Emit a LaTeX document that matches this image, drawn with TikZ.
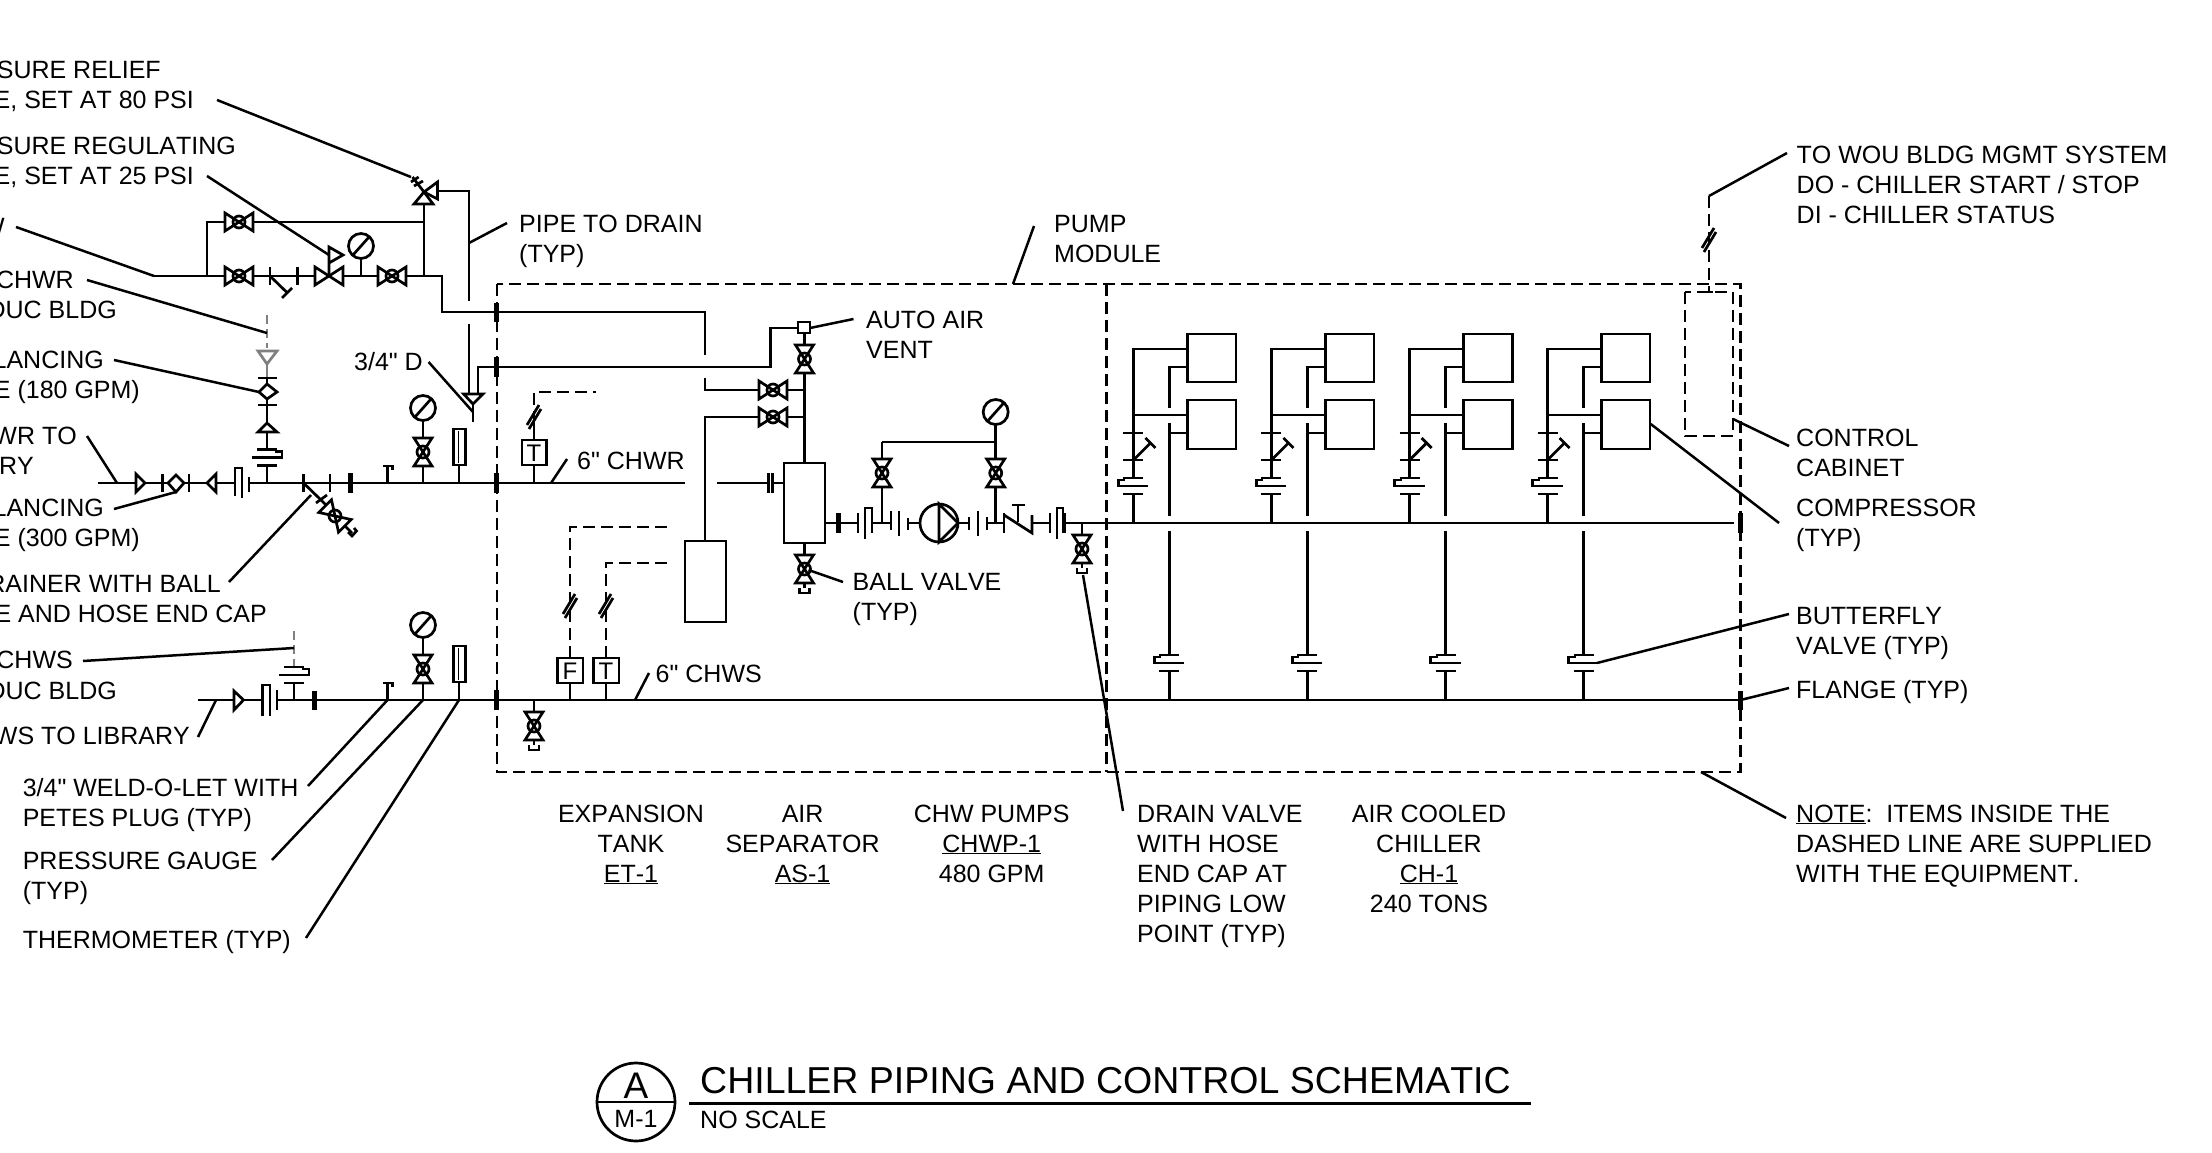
\documentclass[tikz,border=0pt]{standalone}
\usepackage{fontspec}
\defaultfontfeatures[\rmfamily]{}
\setmainfont{Liberation Sans}[Kerning=Off]
\usetikzlibrary{calc}

\tikzset{
  pipe/.style={line width=2.7pt},
  heavy/.style={line width=5pt},
  lead/.style={line width=2.5pt},
  ctrl/.style={line width=2.4pt,dash pattern=on 12pt off 6pt},
  ctrlgray/.style={line width=2.4pt,gray,dash pattern=on 9pt off 5pt},
  lbl/.style={inner sep=0pt,font=\fontsize{25}{30}\selectfont,align=left,anchor=base west},
  lblr/.style={lbl,align=right,anchor=base east},
  lblc/.style={lbl,align=center,anchor=base},
}

% Valve symbols, all by centre
\newcommand{\ballvalve}[3]{%
  \begin{scope}[shift={(#1,#2)},rotate=#3]
    \draw[pipe] (-14,-9) -- (14,9) -- (14,-9) -- (-14,9) -- cycle;
    \draw[pipe] (0,0) circle (6);
  \end{scope}}
\newcommand{\hosecap}[2]{\draw[pipe] ($(#1,#2)+(-5,0)$) -- ++(0,5) -- ++(10,0) -- ++(0,-5);}
\newcommand{\gauge}[2]{%
  \draw[pipe] (#1,#2) circle (12.5);
  \draw[pipe] ($(#1,#2)+(-8,9)$) -- ($(#1,#2)+(8,-9)$);}
\newcommand{\barV}[3]{\draw[pipe] (#1,#2) -- (#1,#3);}
\newcommand{\butterfly}[3]{%
  \draw[pipe] ($(#1,#2)+(-10,-8)$) -- ($(#1,#2)+(10,-8)$);
  \draw[pipe] ($(#1,#2)+(-10,8)$) -- ($(#1,#2)+(10,8)$);
  \draw[pipe] ($(#1,#2)+(-#3*15,0)$) -- ($(#1,#2)+(#3*15,0)$) -- ($(#1,#2)+(#3*15,-6)$) -- ($(#1,#2)+(#3*8,-6)$);}
\newcommand{\slashes}[2]{%
  \draw[pipe] ($(#1,#2)+(-7,8)$) -- ($(#1,#2)+(5,-12)$);
  \draw[pipe] ($(#1,#2)+(-5,12)$) -- ($(#1,#2)+(7,-8)$);}
\newcommand{\plug}[2]{\draw[pipe] (#1,#2) -- (#1,#2-17) ++(-5,0) -- ++(10,0) -- ++(0,4);}

\begin{document}
\begin{tikzpicture}[x=1pt,y=-1pt]
  \useasboundingbox (0,0) rectangle (2212,1153);

  % Dashed skid outlines
  \draw[ctrl] (497,284) rectangle (1740.5,771.7);
  \draw[ctrl] (1106.5,284) -- (1106.5,771.7);
  \draw[ctrl] (1685,292) rectangle (1733,436);
  \draw[ctrl] (1709,196) -- (1709,292);
  \draw[pipe] (1705,292) -- (1713,292);
  \slashes{1709}{240}

  % City water feed at top left
  \draw[pipe] (154,276) -- (225,276);
  \draw[pipe] (253,276) -- (315,276);
  \draw[pipe] (343,276) -- (378,276);
  \draw[pipe] (406,276) -- (442,276) -- (442,312) -- (705,312) -- (705,355);
  \draw[pipe] (207,276) -- (207,222) -- (225,222);
  \draw[pipe] (253,222) -- (424,222);
  \draw[pipe] (424,204) -- (424,276);
  \ballvalve{239}{276}{0}
  \ballvalve{239}{222}{0}
  \ballvalve{392}{276}{0}
  \barV{270}{267}{285}
  \draw[pipe] (270,276) -- (287.5,293);
  \draw[pipe] (282,298) -- (292,288);
  \barV{297.5}{267}{285}
  \draw[pipe] (315,267) -- (343,285) -- (343,267) -- (315,285) -- cycle;
  \draw[pipe] (329,276) -- (329,263) -- (329,247) -- (343,255) -- (329,263);
  \gauge{361}{246}
  \draw[pipe] (361,258) -- (361,276);

  % Relief valve and drain
  \draw[pipe] (424,192) -- (437.5,182) -- (437.5,199) -- cycle;
  \draw[pipe] (424,192) -- (414,204) -- (433,204) -- cycle;
  \draw[pipe] (424,192) -- (412.5,177);
  \draw[pipe] (411,182) -- (418.6,177);
  \draw[pipe] (414,186) -- (423,181);
  \draw[pipe] (437.5,191) -- (469,191) -- (469,301);
  \draw[pipe] (469,324) -- (469,394);
  \draw[pipe] (478,394) -- (478,367) -- (770.6,367) -- (770.6,328) -- (798,328);
  \draw[pipe] (463.6,394) -- (483,394) -- (473,404) -- cycle;
  \draw[pipe] (473,404) -- (473,422);

  % CHWR branch from the north
  \draw[ctrlgray] (267,315) -- (267,348);
  \draw[pipe,gray] (258,351) -- (277,351) -- (267,364) -- cycle;
  \draw[pipe,gray] (267,364) -- (267,378);
  \draw[pipe] (258,378) -- (277,378);
  \draw[pipe] (267,378) -- (267,384);
  \draw[pipe] (267,384) -- (277,392) -- (267,399) -- (259,392) -- cycle;
  \draw[pipe] (267,399) -- (267,423);
  \draw[pipe] (258,405) -- (277,405);
  \draw[pipe] (267,423) -- (277,432) -- (258,432) -- cycle;
  \draw[pipe] (267,432) -- (267,450);
  \butterfly{267}{457.5}{1}
  \draw[pipe] (267,465.5) -- (267,483);

  % 6" CHWR main, left to right
  \draw[pipe] (98,483) -- (136,483);
  \draw[pipe] (136,474) -- (145,483) -- (136,492) -- cycle;
  \draw[pipe] (145,483) -- (168,483);
  \barV{162.5}{474}{492}
  \draw[pipe] (176,475) -- (184,483) -- (176,492) -- (168,483) -- cycle;
  \draw[pipe] (184,483) -- (207,483);
  \barV{189}{474}{492}
  \draw[pipe] (207,483) -- (216,474) -- (216,492) -- cycle;
  \draw[pipe] (216,483) -- (235,483);
  \draw[pipe] (235,496) -- (235,468) -- (242,468) -- (242,498);
  \barV{249}{477}{492}
  \draw[pipe] (249,483) -- (685,483);
  \foreach \x in {303.5,330}
    \barV{\x}{474}{492};
  \draw[heavy] (350.5,473) -- (350.5,493);
  \plug{387.5}{483}
  \draw[heavy] (496.5,473) -- (496.5,493);

  % Strainer with drain
  \draw[pipe] (303.5,483) -- (321,500) -- (326,505);
  \draw[pipe] (316,503) -- (327,495);
  \ballvalve{335}{516}{-45}
  \draw[pipe] (345,526) -- (352,533);
  \draw[pipe] (348,532) -- (352,536) -- (356.5,531) -- (354,528);

  % Gauge and thermometer tappings
  \foreach \y/\g in {483/408,700/625}
  {
    \gauge{423}{\g}
    \draw[pipe] (423,\g+12.5) -- (423,\g+29);
    \ballvalve{423}{\g+44}{90}
    \draw[pipe] (423,\g+58) -- (423,\y);
    \draw[pipe] (453.5,\g+21) rectangle (465.5,\g+57);
    \draw[line width=1.5pt] (458.5,\g+23) -- (458.5,\g+55);
    \draw[pipe] (459,\g+57) -- (459,\y);
  }
  \draw[heavy] (496.5,303) -- (496.5,322);
  \draw[heavy] (496.5,357) -- (496.5,377);

  % CHWS side, bottom left
  \draw[pipe] (198,700) -- (234,700);
  \draw[pipe] (234,691) -- (243.5,700) -- (234,710) -- cycle;
  \draw[pipe] (243.5,700) -- (262.5,700);
  \draw[pipe] (262.5,716) -- (262.5,685) -- (270,685) -- (270,716);
  \barV{277}{690}{710}
  \draw[pipe] (277,700) -- (1740.5,700);
  \draw[ctrlgray] (294,631) -- (294,666);
  \butterfly{294}{675}{1}
  \draw[pipe] (294,683) -- (294,700);
  \draw[heavy] (314.5,691) -- (314.5,710);
  \plug{387.5}{700}
  \draw[heavy] (496.5,690) -- (496.5,710);
  \draw[heavy] (1740.5,691) -- (1740.5,710);

  % Sensors in the module
  \draw[pipe] (522,440) rectangle (546.5,465);
  \node[lbl,anchor=base,font=\fontsize{24}{24}\selectfont] (sensT) at (534,461) {T};
  \draw[pipe] (534,465) -- (534,483);
  \draw[pipe] (534,440) -- (534,423);
  \draw[ctrl] (534,423) -- (534,392) -- (596,392);
  \slashes{534}{417}
  \draw[pipe] (557.5,658) rectangle (583,683);
  \node[lbl,anchor=base,font=\fontsize{24}{24}\selectfont] (sensF) at (570,679) {F};
  \draw[pipe] (593.5,658) rectangle (619,683);
  \node[lbl,anchor=base,font=\fontsize{24}{24}\selectfont] (sensTb) at (606,679) {T};
  \foreach \x in {570,606}
    \draw[pipe] (\x,683) -- (\x,700);
  \draw[ctrl] (570,658) -- (570,527) -- (668.6,527);
  \draw[ctrl] (606,658) -- (606,563) -- (668.6,563);
  \slashes{570}{606}
  \slashes{606}{606}
  \draw[pipe] (534,700) -- (534,712);
  \ballvalve{534}{726}{90}
  \draw[pipe] (534,740) -- (534,745);
  \hosecap{534}{745}

  % Expansion tank and air separator
  \draw[pipe] (685,541) rectangle (726,622);
  \draw[pipe] (784,463) rectangle (825,543);
  \draw[pipe] (705,378) -- (705,390) -- (759,390);
  \draw[pipe] (705,541) -- (705,417) -- (759,417);
  \ballvalve{773}{390}{0}
  \ballvalve{773}{417}{0}
  \draw[pipe] (787,390) -- (804.5,390);
  \draw[pipe] (787,417) -- (804.5,417);
  \draw[pipe] (798,322) rectangle (810,333);
  \draw[pipe] (804.5,333) -- (804.5,345);
  \ballvalve{804.5}{359}{90}
  \draw[pipe] (804.5,373) -- (804.5,463);
  \draw[pipe] (804.5,543) -- (804.5,555);
  \ballvalve{804.5}{569}{90}
  \draw[pipe] (804.5,583) -- (804.5,588);
  \hosecap{804.5}{588}
  \draw[pipe] (717,483) -- (768.5,483);
  \foreach \x in {768.5,772.5}
    \barV{\x}{473}{493};
  \draw[pipe] (772.5,483) -- (784,483);

  % Pump train
  \draw[pipe] (825,523) -- (858,523);
  \draw[heavy] (838.5,513) -- (838.5,533);
  \barV{858}{513}{533}
  \draw[pipe] (865,539) -- (865,508) -- (872,508) -- (872,533);
  \draw[pipe] (872,523) -- (891,523);
  \barV{891}{511}{530}
  \barV{899}{511}{536}
  \barV{908}{518}{530}
  \draw[pipe] (908,523) -- (920,523);
  \draw[pipe] (939,523) circle (19);
  \draw[pipe] (939,504) -- (939,542) -- (958,523) -- cycle;
  \draw[pipe] (958,523) -- (969,523);
  \barV{969}{517}{530}
  \barV{978}{511}{536}
  \barV{987}{517}{530}
  \draw[pipe] (987,523) -- (1004,523);
  \barV{1004}{513}{533}
  \draw[pipe] (1004,515) -- (1032,533) -- (1032,515);
  \draw[pipe] (1012,505) -- (1025,505);
  \draw[pipe] (1018,505) -- (1018,522);
  \draw[pipe] (1032,523) -- (1050,523);
  \barV{1050}{513}{533}
  \draw[pipe] (1057,539) -- (1057,508) -- (1063,508) -- (1063,533);
  \barV{1065}{513}{533}
  \draw[pipe] (1065,523) -- (1734,523);
  \draw[heavy] (1740.5,513) -- (1740.5,533);
  \foreach \x in {882,995.7}
  {
    \draw[pipe] (\x,523) -- (\x,487);
    \ballvalve{\x}{473}{90}
    \draw[pipe] (\x,459) -- (\x,442);
  }
  \draw[pipe] (882,442) -- (995.7,442);
  \draw[pipe] (995.7,442) -- (995.7,424.5);
  \gauge{995.7}{412}
  \draw[pipe] (1082,523) -- (1082,535);
  \ballvalve{1082}{549}{90}
  \draw[pipe] (1082,563) -- (1082,568);
  \hosecap{1082}{568}

  % Chiller circuits
  \foreach \x in {1133.4,1271.4,1409.6,1547.5}
  {
    \draw[pipe] ($(\x,0)+(54,334)$) rectangle ($(\x,0)+(102.6,382)$);
    \draw[pipe] ($(\x,0)+(54,400)$) rectangle ($(\x,0)+(102.6,449)$);
    \draw[pipe] (\x,523) -- (\x,494);
    \draw[pipe] (\x,478) -- (\x,349) -- ($(\x,0)+(54,349)$);
    \draw[pipe] (\x,415) -- ($(\x,0)+(54,415)$);
    \draw[pipe] ($(\x,0)+(-10,433)$) -- ($(\x,0)+(10,433)$);
    \draw[pipe] ($(\x,0)+(-10,460)$) -- ($(\x,0)+(10,460)$);
    \draw[pipe] (\x,460) -- ($(\x,0)+(17,443)$);
    \draw[pipe] ($(\x,0)+(12,438)$) -- ($(\x,0)+(22,448)$);
    \butterfly{\x}{486}{-1}
    \draw[pipe] ($(\x,0)+(54,367)$) -- ($(\x,0)+(36,367)$) -- ($(\x,0)+(36,408)$);
    \draw[pipe] ($(\x,0)+(54,433)$) -- ($(\x,0)+(36,433)$);
    \draw[pipe] ($(\x,0)+(36,423)$) -- ($(\x,0)+(36,516)$);
    \draw[pipe] ($(\x,0)+(36,531)$) -- ($(\x,0)+(36,655)$);
    \draw[pipe] ($(\x,0)+(36,671)$) -- ($(\x,0)+(36,700)$);
    \butterfly{\x+36}{663}{-1}
  }

  % Leaders
  \draw[lead] (217,100) -- (411,177);
  \draw[lead] (207,176) -- (329,255);
  \draw[lead] (16,227) -- (154,276);
  \draw[lead] (87,280) -- (267,333);
  \draw[lead] (114,360) -- (259,392);
  \draw[lead] (507,223) -- (469,243);
  \draw[lead] (428.6,362) -- (473,412);
  \draw[lead] (87,436) -- (117,483);
  \draw[lead] (114,509) -- (176,492);
  \draw[lead] (229,582) -- (311,495);
  \draw[lead] (83,661) -- (294,648);
  \draw[lead] (198,737) -- (216,700);
  \draw[lead] (308,786) -- (387.5,700);
  \draw[lead] (272,860) -- (423,700);
  \draw[lead] (306,938) -- (459,700);
  \draw[lead] (567,459) -- (551,483);
  \draw[lead] (649,673) -- (635,700);
  \draw[lead] (1034,226) -- (1013,284);
  \draw[lead] (853.5,319) -- (810,328);
  \draw[lead] (843,582) -- (808.5,570);
  \draw[lead] (1083,575) -- (1123,811);
  \draw[lead] (1787,153) -- (1709,196);
  \draw[lead] (1733,419) -- (1789,446);
  \draw[lead] (1650.7,424) -- (1779,523);
  \draw[lead] (1597,663) -- (1789,614);
  \draw[lead] (1740.5,700) -- (1789,688);
  \draw[lead] (1701,772) -- (1786,818);

  % Labels cut by the sheet edge
  \node[lblr] (reliefA) at (161,79) {SURE RELIEF};
  \node[lblr] (reliefB) at (194,109) {E, SET AT 80 PSI};
  \node[lblr] (regA) at (236,154) {SURE REGULATING};
  \node[lblr] (regB) at (194,184) {E, SET AT 25 PSI};
  \node[lblr] (feedA) at (5,235) {W};
  \node[lblr] (chwrA) at (74,288) {CHWR};
  \node[lblr] (chwrB) at (117,318) {DUC BLDG};
  \node[lblr] (balA) at (104,368) {LANCING};
  \node[lblr] (balB) at (140,398) {E (180 GPM)};
  \node[lblr] (libA) at (77,444) {WR TO};
  \node[lblr] (libB) at (34,474) {RY};
  \node[lblr] (balC) at (104,516) {LANCING};
  \node[lblr] (balD) at (140,546) {E (300 GPM)};
  \node[lblr] (strA) at (221,592) {RAINER WITH BALL};
  \node[lblr] (strB) at (267,622) {E AND HOSE END CAP};
  \node[lblr] (chwsA) at (73,668) {CHWS};
  \node[lblr] (chwsB) at (117,699) {DUC BLDG};
  \node[lblr] (chwsC) at (190,744) {WS TO LIBRARY};

  % Labels
  \node[lbl] (weldLbl) at (22.6,826) {3/4" WELD-O-LET WITH\\PETES PLUG (TYP)};
  \node[lbl] (gaugeLbl) at (22.6,899) {PRESSURE GAUGE\\(TYP)};
  \node[lbl] (thermLbl) at (22.6,948) {THERMOMETER (TYP)};
  \node[lbl] (drainLbl) at (519,262) {PIPE TO DRAIN\\(TYP)};
  \node[lblr] (dripLbl) at (423,370) {3/4" D};
  \node[lbl] (pumpLbl) at (1054,262) {PUMP\\MODULE};
  \node[lbl] (ventLbl) at (866,358) {AUTO AIR\\VENT};
  \node[lbl] (retLbl) at (577,469) {6" CHWR};
  \node[lbl] (ballLbl) at (852.5,620) {BALL VALVE\\(TYP)};
  \node[lbl] (supLbl) at (655.5,682) {6" CHWS};
  \node[lbl] (bmsLbl) at (1796.5,223) {TO WOU BLDG MGMT SYSTEM\\DO - CHILLER START / STOP\\DI - CHILLER STATUS};
  \node[lbl] (cabLbl) at (1796,476) {CONTROL\\CABINET};
  \node[lbl] (compLbl) at (1796,546) {COMPRESSOR\\(TYP)};
  \node[lbl] (bfvLbl) at (1796,654) {BUTTERFLY\\VALVE (TYP)};
  \node[lbl] (flgLbl) at (1796,698) {FLANGE (TYP)};
  \node[lbl] (noteLbl) at (1796,882) {\underline{NOTE}:\ \ ITEMS INSIDE THE\\DASHED LINE ARE SUPPLIED\\WITH THE EQUIPMENT.};
  \node[lblc] (tankLbl) at (631,882) {EXPANSION\\TANK\\\underline{ET-1}};
  \node[lblc] (sepLbl) at (802.6,882) {AIR\\SEPARATOR\\\underline{AS-1}};
  \node[lblc] (chwpLbl) at (991.7,882) {CHW PUMPS\\\underline{CHWP-1}\\480 GPM};
  \node[lbl] (lowLbl) at (1137,942) {DRAIN VALVE\\WITH HOSE\\END CAP AT\\PIPING LOW\\POINT (TYP)};
  \node[lblc] (chLbl) at (1429,912) {AIR COOLED\\CHILLER\\\underline{CH-1}\\240 TONS};

  % Title block
  \node[lbl,font=\fontsize{37.5}{37.5}\selectfont] (titleLbl) at (700,1093.5) {CHILLER PIPING AND CONTROL SCHEMATIC};
  \draw[line width=3pt] (689,1103) -- (1530.6,1103);
  \node[lbl] (scaleLbl) at (700,1128) {NO SCALE};
  \draw[pipe] (636,1102) circle (39);
  \draw[pipe] (597,1102) -- (675,1102);
  \node[lblc,font=\fontsize{37}{37}\selectfont] (bubA) at (636,1098) {A};
  \node[lblc] (bubB) at (636,1127) {M-1};

\end{tikzpicture}
\end{document}
